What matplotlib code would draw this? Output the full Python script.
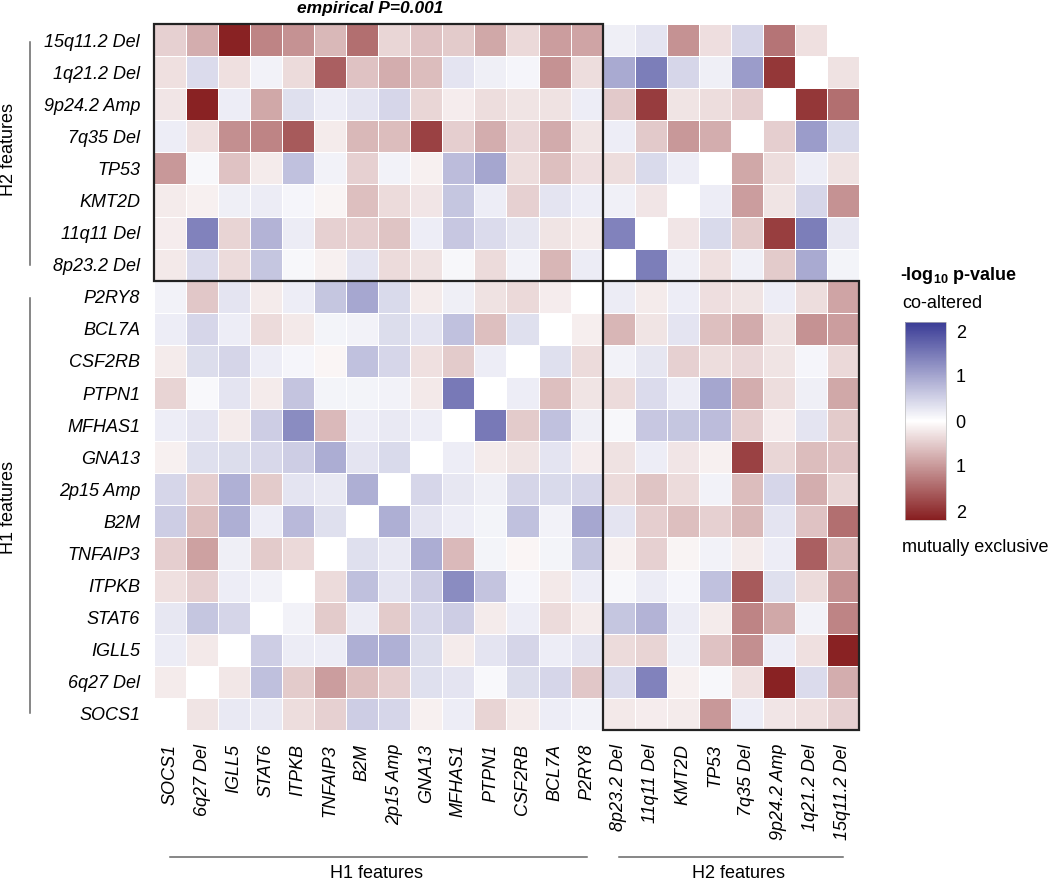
import numpy as np
import matplotlib
matplotlib.use("Agg")
import matplotlib.pyplot as plt
from matplotlib.colors import LinearSegmentedColormap
from matplotlib.patches import Rectangle
from matplotlib.lines import Line2D

plt.rcParams['font.family'] = 'Liberation Sans'
plt.rcParams['mathtext.fontset'] = 'custom'
plt.rcParams['mathtext.rm'] = 'Liberation Sans:bold'
plt.rcParams['mathtext.default'] = 'rm'

nan = float('nan')

# row labels top -> bottom
row_labels = ['15q11.2 Del', '1q21.2 Del', '9p24.2 Amp', '7q35 Del', 'TP53', 'KMT2D',
              '11q11 Del', '8p23.2 Del', 'P2RY8', 'BCL7A', 'CSF2RB', 'PTPN1', 'MFHAS1',
              'GNA13', '2p15 Amp', 'B2M', 'TNFAIP3', 'ITPKB', 'STAT6', 'IGLL5',
              '6q27 Del', 'SOCS1']
# column labels left -> right
col_labels = ['SOCS1', '6q27 Del', 'IGLL5', 'STAT6', 'ITPKB', 'TNFAIP3', 'B2M', '2p15 Amp',
              'GNA13', 'MFHAS1', 'PTPN1', 'CSF2RB', 'BCL7A', 'P2RY8', '8p23.2 Del',
              '11q11 Del', 'KMT2D', 'TP53', '7q35 Del', '9p24.2 Amp', '1q21.2 Del',
              '15q11.2 Del']

# signed -log10 p : positive = co-altered (blue), negative = mutually exclusive (red)
neglog_p = [
    [-0.45, -0.8, -2.15, -1.2, -1.05, -0.7, -1.4, -0.4, -0.6, -0.5, -0.85, -0.37, -0.95, -0.88, 0.18, 0.3, -1.05, -0.32, 0.45, -1.35, -0.3, nan],
    [-0.3, 0.4, -0.3, 0.15, -0.35, -1.55, -0.6, -0.8, -0.65, 0.3, 0.18, 0.12, -1.05, -0.33, 0.95, 1.45, 0.45, 0.18, 1.1, -1.95, nan, -0.28],
    [-0.25, -2.15, 0.2, -0.85, 0.35, 0.2, 0.3, 0.45, -0.4, -0.18, -0.33, -0.27, -0.28, 0.2, -0.52, -1.9, -0.27, -0.33, -0.48, nan, -1.95, -1.4],
    [0.2, -0.3, -1.1, -1.2, -1.6, -0.2, -0.7, -0.65, -1.85, -0.48, -0.8, -0.38, -0.82, -0.26, 0.2, -0.52, -1.0, -0.8, nan, -0.47, 1.1, 0.42],
    [-1.0, 0.1, -0.6, -0.2, 0.7, 0.15, -0.45, 0.15, -0.14, 0.75, 1.0, -0.33, -0.62, -0.32, -0.33, 0.42, 0.2, nan, -0.85, -0.33, 0.2, -0.28],
    [-0.2, -0.15, 0.18, 0.22, 0.12, -0.12, -0.62, -0.35, -0.25, 0.65, 0.2, -0.45, 0.3, 0.2, 0.17, -0.25, nan, 0.2, -0.95, -0.27, 0.45, -1.05],
    [-0.18, 1.4, -0.42, 0.85, 0.22, -0.45, -0.47, -0.58, 0.2, 0.62, 0.4, 0.28, -0.27, -0.2, 1.4, nan, -0.25, 0.42, -0.5, -1.88, 1.45, 0.27],
    [-0.22, 0.4, -0.35, 0.65, 0.1, -0.15, 0.3, -0.35, -0.28, 0.1, -0.35, 0.15, -0.72, 0.22, nan, 1.45, 0.17, -0.3, 0.17, -0.5, 0.95, 0.13],
    [0.15, -0.55, 0.3, -0.2, 0.2, 0.65, 0.98, 0.42, -0.2, 0.18, -0.28, -0.37, -0.18, nan, 0.22, -0.2, 0.2, -0.32, -0.26, 0.2, -0.33, -0.88],
    [0.2, 0.45, 0.2, -0.35, -0.22, 0.13, 0.15, 0.38, 0.3, 0.7, -0.63, 0.35, nan, -0.17, -0.72, -0.27, 0.3, -0.62, -0.82, -0.28, -1.05, -0.95],
    [-0.2, 0.38, 0.47, 0.2, 0.12, -0.1, 0.7, 0.45, -0.3, -0.5, 0.2, nan, 0.35, -0.35, 0.15, 0.28, -0.45, -0.33, -0.38, -0.27, 0.12, -0.37],
    [-0.42, 0.07, 0.3, -0.2, 0.67, 0.13, 0.13, 0.14, -0.22, 1.5, nan, 0.2, -0.62, -0.27, -0.35, 0.4, 0.2, 1.0, -0.8, -0.33, 0.18, -0.85],
    [0.2, 0.3, -0.2, 0.55, 1.3, -0.68, 0.2, 0.25, 0.2, nan, 1.5, -0.5, 0.7, 0.18, 0.1, 0.62, 0.65, 0.75, -0.48, -0.18, 0.3, -0.5],
    [-0.15, 0.35, 0.38, 0.43, 0.55, 0.92, 0.3, 0.42, nan, 0.2, -0.2, -0.27, 0.3, -0.18, -0.28, 0.2, -0.25, -0.14, -1.85, -0.4, -0.65, -0.6],
    [0.45, -0.47, 0.88, -0.5, 0.3, 0.25, 0.9, nan, 0.45, 0.27, 0.18, 0.47, 0.42, 0.45, -0.35, -0.58, -0.35, 0.15, -0.65, 0.45, -0.8, -0.4],
    [0.55, -0.62, 0.9, 0.2, 0.78, 0.35, nan, 0.9, 0.3, 0.2, 0.13, 0.7, 0.15, 0.98, 0.3, -0.47, -0.62, -0.45, -0.7, 0.3, -0.6, -1.4],
    [-0.47, -0.92, 0.18, -0.5, -0.37, nan, 0.35, 0.25, 0.92, -0.68, 0.13, -0.1, 0.13, 0.65, -0.15, -0.45, -0.12, 0.15, -0.2, 0.2, -1.55, -0.7],
    [-0.3, -0.45, 0.2, 0.15, nan, -0.35, 0.72, 0.3, 0.55, 1.3, 0.67, 0.12, -0.22, 0.2, 0.1, 0.22, 0.12, 0.7, -1.6, 0.35, -0.35, -1.05],
    [0.27, 0.65, 0.47, nan, 0.15, -0.5, 0.22, -0.5, 0.43, 0.55, -0.2, 0.2, -0.35, -0.2, 0.65, 0.85, 0.22, -0.2, -1.2, -0.85, 0.15, -1.2],
    [0.22, -0.22, nan, 0.55, 0.22, 0.2, 0.9, 0.88, 0.38, -0.2, 0.3, 0.47, 0.2, 0.3, -0.35, -0.42, 0.18, -0.6, -1.1, 0.2, -0.3, -2.15],
    [-0.2, nan, -0.24, 0.72, -0.5, -0.95, -0.63, -0.47, 0.35, 0.3, 0.07, 0.38, 0.45, -0.55, 0.4, 1.4, -0.15, 0.1, -0.3, -2.15, 0.4, -0.8],
    [nan, -0.26, 0.25, 0.25, -0.33, -0.45, 0.55, 0.45, -0.15, 0.2, -0.42, -0.2, 0.2, 0.15, -0.22, -0.18, -0.2, -1.0, 0.2, -0.25, -0.3, -0.45],
]

cbar_ticks = [-2, -1, 0, 1, 2]
cbar_ticklabels = ['2', '1', '0', '1', '2']

W, H = 1050, 881

def fx(x):
    return x / W

def fy(y):
    return 1 - y / H

fig = plt.figure(figsize=(W / 100, H / 100), dpi=100)
ax = fig.add_axes([fx(154), fy(730), (859 - 154) / W, (730 - 24) / H])

cmap = LinearSegmentedColormap.from_list('mex', ['#871e20', '#ffffff', '#3a3c96'])
data = np.ma.masked_invalid(np.array(neglog_p))
n = len(row_labels)
mesh = ax.pcolormesh(np.arange(n + 1), np.arange(n + 1), data, cmap=cmap,
                     vmin=-2.2, vmax=2.2, edgecolors='white', linewidth=0.6)
ax.set_xlim(0, n)
ax.set_ylim(n, 0)
for s in ax.spines.values():
    s.set_visible(False)

ax.set_xticks(np.arange(n) + 0.5)
ax.set_xticklabels(col_labels, rotation=90, fontsize=13, fontstyle='italic', va='top')
ax.set_yticks(np.arange(n) + 0.5)
ax.set_yticklabels(row_labels, fontsize=13, fontstyle='italic')
ax.tick_params(length=0, pad=10)

# black boxes
ax.add_patch(Rectangle((0, 0), 14, 8, fill=False, edgecolor='#222222', lw=1.6, clip_on=False))
ax.add_patch(Rectangle((14, 8), 8, 14, fill=False, edgecolor='#222222', lw=1.6, clip_on=False))

fig.text(fx(370), fy(8), 'empirical P=0.001', fontsize=12.5, fontweight='bold',
         fontstyle='italic', ha='center', va='center')

# group brackets
gcol = '#666666'
fig.add_artist(Line2D([fx(30), fx(30)], [fy(42), fy(265)], color=gcol, lw=1.1))
fig.add_artist(Line2D([fx(30), fx(30)], [fy(298), fy(713)], color=gcol, lw=1.1))
fig.text(fx(9), fy(150), 'H2 features', rotation=90, fontsize=13, ha='center', va='center')
fig.text(fx(9), fy(508), 'H1 features', rotation=90, fontsize=13, ha='center', va='center')
fig.add_artist(Line2D([fx(170), fx(587)], [fy(857), fy(857)], color=gcol, lw=1.1))
fig.add_artist(Line2D([fx(619), fx(843)], [fy(857), fy(857)], color=gcol, lw=1.1))
fig.text(fx(377), fy(873), 'H1 features', fontsize=13, ha='center', va='center')
fig.text(fx(739), fy(873), 'H2 features', fontsize=13, ha='center', va='center')

# colorbar
cax = fig.add_axes([fx(905), fy(520), 41 / W, 198 / H])
cb = fig.colorbar(mesh, cax=cax, ticks=cbar_ticks)
cb.set_ticklabels(cbar_ticklabels)
cb.ax.tick_params(length=0, labelsize=13, pad=7)
cb.outline.set_linewidth(0.5)
cb.outline.set_edgecolor('#bbbbbb')
fig.text(fx(900), fy(276), r'-log$_{10}$ p-value', fontsize=13, fontweight='bold',
         ha='left', va='center')
fig.text(fx(902), fy(304), 'co-altered', fontsize=13, ha='left', va='center')
fig.text(fx(902), fy(547), 'mutually exclusive', fontsize=13, ha='left', va='center')

fig.savefig('out.png', dpi=100)
